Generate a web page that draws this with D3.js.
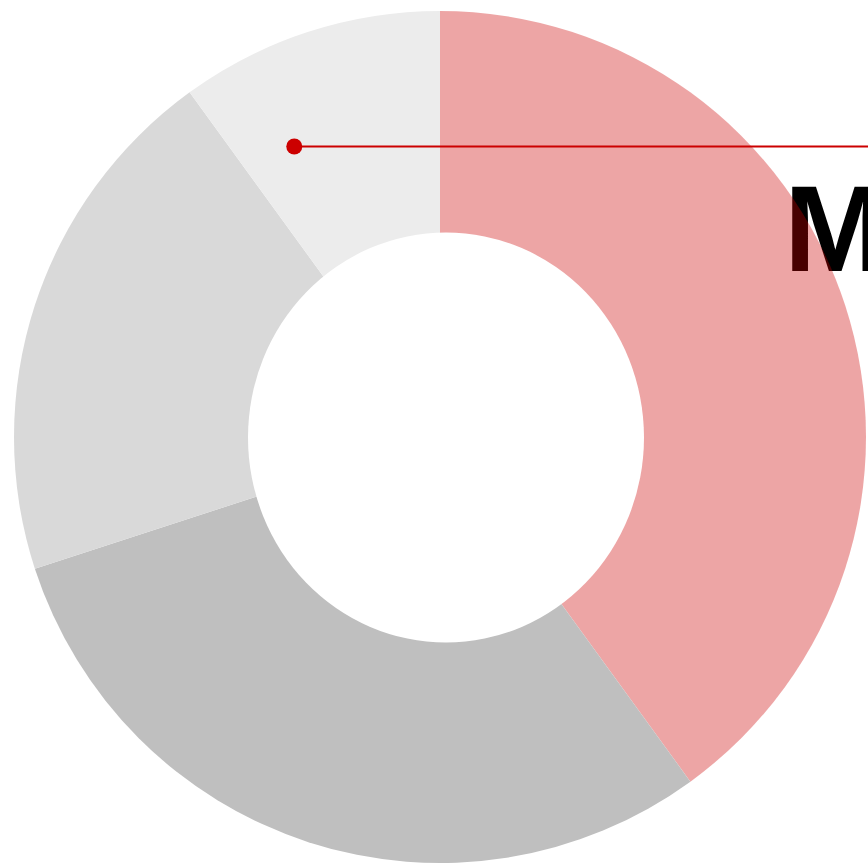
<!DOCTYPE html>
<html>
<head>
<meta charset="utf-8">
<script src="https://cdn.jsdelivr.net/npm/d3@7"></script>
<style>
  html, body { margin: 0; padding: 0; background: #fff; overflow: hidden; }
  svg { display: block; }
</style>
</head>
<body>
<svg id="chart" width="868" height="864"></svg>
<script>
// Data
const categories = ["A", "B", "C", "D"];
const values = [40, 30, 20, 10];
const colors = ["#cc0000", "#bfbfbf", "#d9d9d9", "#ececec"];
const opacities = [0.353, 1, 1, 1];
const labelText = "M";

const W = 868, H = 864;
const cx = 440, cy = 437;
const outerR = 426;

const svg = d3.select("#chart");

// Big label (drawn beneath the translucent slice; clipped by the page edge as in the reference)
svg.append("text")
  .attr("x", 784)
  .attr("y", 271)
  .attr("font-family", "'Liberation Sans', Arial, sans-serif")
  .attr("font-weight", "bold")
  .attr("font-size", 123)
  .attr("fill", "#000")
  .text(labelText);

const pie = d3.pie().sort(null).value(d => d);
const arcs = pie(values);
const arc = d3.arc().innerRadius(0).outerRadius(outerR);

const g = svg.append("g").attr("transform", `translate(${cx},${cy})`);
g.selectAll("path.slice")
  .data(arcs)
  .join("path")
  .attr("class", "slice")
  .attr("d", arc)
  .attr("fill", (d, i) => colors[i])
  .attr("fill-opacity", (d, i) => opacities[i]);

// Donut hole
svg.append("ellipse")
  .attr("cx", 446)
  .attr("cy", 437.5)
  .attr("rx", 198)
  .attr("ry", 205)
  .attr("fill", "#fff");

// Annotation pointing into the last slice
const last = arcs[arcs.length - 1];
const a = last.startAngle + (last.endAngle - last.startAngle) * 0.26;
const rr = 325;
const px = cx + rr * Math.sin(a);
const py = cy - rr * Math.cos(a);
svg.append("line")
  .attr("x1", px).attr("y1", py)
  .attr("x2", W + 10).attr("y2", py)
  .attr("stroke", "#cc0000")
  .attr("stroke-width", 2);
svg.append("circle")
  .attr("cx", px).attr("cy", py)
  .attr("r", 8)
  .attr("fill", "#cc0000");
</script>
</body>
</html>
